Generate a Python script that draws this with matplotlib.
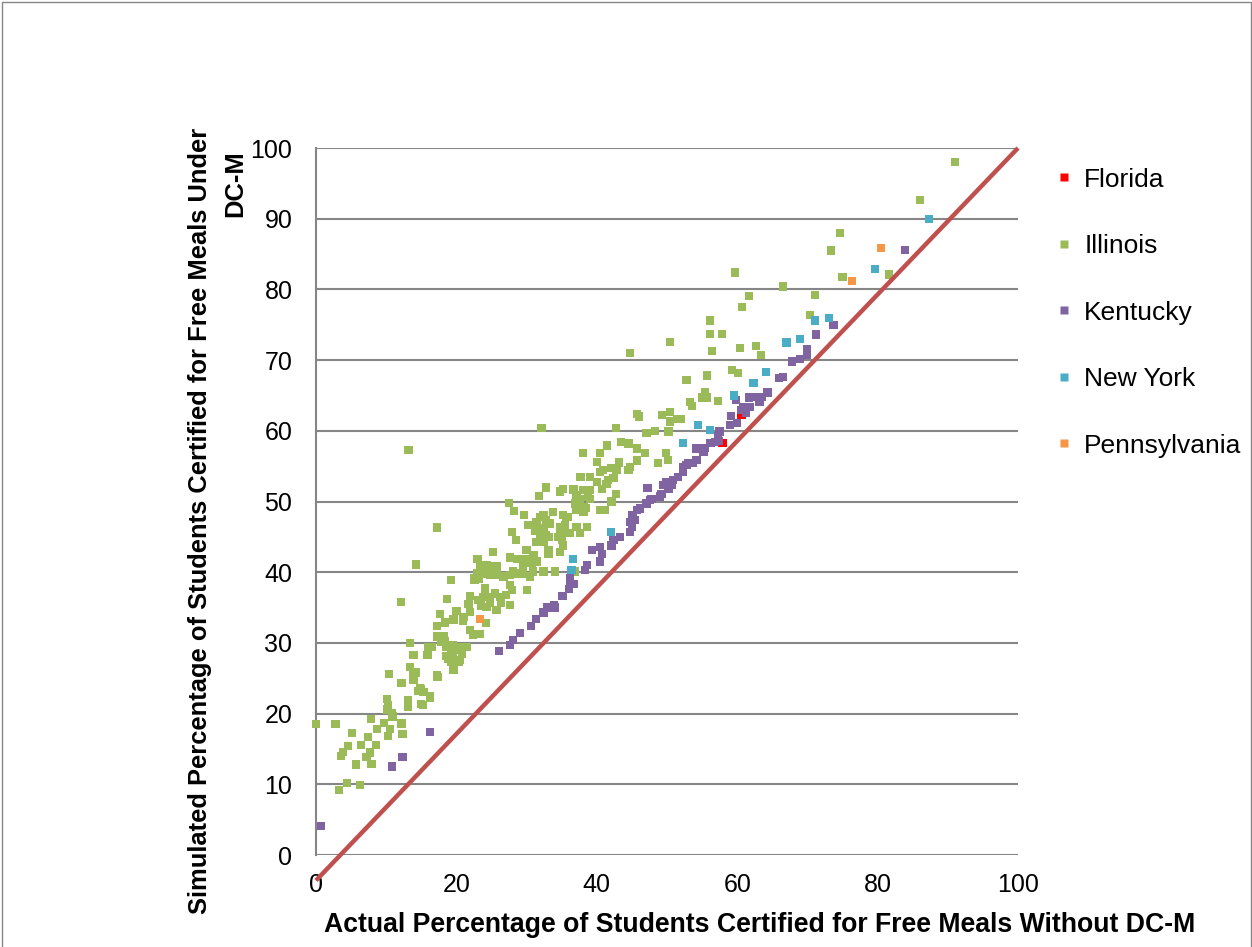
import matplotlib
matplotlib.use("Agg")
import matplotlib.pyplot as plt
from matplotlib.lines import Line2D
import matplotlib.patches as patches

plt.rcParams['font.family'] = ['Liberation Sans', 'DejaVu Sans']

# --- data ---
florida = [(60.6, 62.2), (57.9, 58.3)]

illinois = [
    (91.0, 98.0), (86.0, 92.6), (74.6, 88.0), (73.4, 85.5), (59.7, 82.4), (75.0, 81.8),
    (81.6, 82.1), (66.5, 80.4), (61.7, 79.1), (71.1, 79.2), (60.7, 77.5), (70.4, 76.4),
    (56.1, 75.6), (56.1, 73.7), (57.8, 73.7), (56.4, 71.3), (60.4, 71.7), (62.7, 72.0),
    (63.4, 70.7), (59.3, 68.6), (60.1, 68.2), (52.8, 67.2), (55.7, 67.8), (55.4, 65.5),
    (55.0, 64.7), (55.7, 64.7), (53.3, 64.1), (53.6, 63.5), (57.3, 64.2), (51.9, 61.7),
    (50.4, 72.6), (44.7, 71.0), (45.7, 62.4), (46.0, 62.0), (49.3, 62.2), (50.4, 62.7),
    (50.4, 61.3), (51.4, 61.7), (42.7, 60.4), (32.1, 60.4), (47.1, 59.7), (48.3, 60.0),
    (50.2, 59.9), (41.5, 57.9), (43.4, 58.4), (44.5, 58.2), (38.0, 56.9), (40.5, 56.9),
    (45.7, 57.5), (46.9, 56.9), (49.9, 56.9), (50.1, 55.9), (40.0, 55.6), (43.2, 55.5),
    (45.7, 55.8), (48.7, 55.4), (40.9, 54.5), (42.1, 54.7), (42.8, 54.5), (44.7, 54.9),
    (44.5, 54.5), (37.7, 53.5), (39.0, 53.5), (40.5, 54.2), (42.4, 53.3), (40.0, 52.8),
    (41.4, 52.5), (41.6, 53.0), (39.0, 51.6), (40.7, 51.8), (32.8, 52.0), (35.2, 51.8),
    (34.8, 51.4), (36.7, 51.7), (38.1, 51.6), (42.7, 51.1), (42.1, 50.0), (37.6, 50.4),
    (39.0, 50.4), (36.9, 49.7), (38.1, 49.2), (40.5, 48.8), (41.2, 48.8), (33.8, 48.5),
    (32.4, 48.1), (32.8, 47.4), (35.2, 48.1), (35.9, 47.8), (37.1, 46.4), (38.6, 46.4),
    (37.6, 45.5), (36.2, 45.5), (34.8, 46.4), (35.2, 45.7), (34.5, 45.0), (35.0, 44.6),
    (33.1, 45.0), (32.4, 44.6), (35.2, 43.8), (33.1, 42.6), (34.8, 42.9), (34.0, 40.1),
    (32.4, 40.1), (36.9, 40.1), (31.8, 50.8), (37.1, 50.9), (38.9, 51.6), (38.7, 50.7),
    (27.5, 49.8), (28.2, 48.7), (29.6, 48.1), (31.9, 47.8), (31.4, 47.1), (30.2, 46.7),
    (31.2, 45.9), (32.4, 46.2), (33.3, 46.9), (31.9, 45.0), (32.8, 45.3), (31.4, 44.3),
    (32.4, 44.3), (34.8, 46.2), (35.5, 46.7), (35.7, 47.8), (37.1, 48.8), (37.6, 49.5),
    (38.1, 48.6), (38.5, 49.1), (27.9, 45.7), (28.5, 44.6), (30.0, 43.1), (31.0, 42.4),
    (30.2, 41.9), (29.1, 41.9), (33.1, 43.1), (33.1, 42.6), (25.2, 42.9), (27.6, 42.1),
    (28.6, 41.9), (23.0, 41.9), (23.4, 40.8), (24.5, 40.8), (25.7, 40.8), (29.5, 41.0),
    (31.4, 41.5), (30.5, 41.5), (24.3, 41.0), (25.2, 40.6), (24.8, 39.6), (23.8, 39.8),
    (22.9, 39.8), (22.6, 39.1), (25.7, 39.6), (26.7, 39.4), (27.6, 39.6), (28.1, 40.1),
    (28.8, 39.8), (29.5, 39.8), (30.7, 41.3), (30.9, 40.1), (30.5, 39.4), (27.6, 38.2),
    (27.9, 37.5), (30.1, 37.5), (17.2, 46.3), (14.2, 41.1), (12.1, 35.8), (19.2, 38.9),
    (22.6, 38.9), (23.2, 39.0), (24.1, 37.7), (18.7, 36.2), (21.9, 36.6), (21.7, 35.5),
    (23.1, 36.1), (23.5, 35.3), (21.9, 34.4), (17.7, 34.1), (20.0, 34.5), (19.6, 33.3),
    (18.4, 32.9), (21.0, 33.7), (20.9, 33.1), (17.2, 32.4), (17.2, 30.9), (18.2, 31.0),
    (18.4, 30.2), (18.8, 29.4), (21.9, 31.8), (22.6, 31.3), (23.4, 31.3), (22.4, 31.1),
    (24.2, 32.8), (23.8, 36.5), (24.8, 36.5), (25.5, 37.0), (26.2, 36.5), (24.3, 35.1),
    (24.8, 35.6), (25.7, 34.7), (26.4, 35.6), (27.1, 36.8), (27.6, 35.4), (19.5, 33.2),
    (13.4, 30.0), (16.0, 29.4), (16.5, 29.4), (17.9, 30.2), (18.6, 29.4), (19.3, 28.5),
    (19.6, 26.2), (20.3, 27.3), (18.8, 27.8), (20.3, 29.4), (21.5, 29.4), (20.8, 28.5),
    (19.5, 29.7), (21.2, 29.4), (20.0, 29.0), (18.6, 28.1), (19.5, 28.3), (20.5, 27.6),
    (19.3, 27.3), (19.5, 26.4), (13.9, 28.3), (15.9, 28.3), (13.4, 26.6), (13.9, 25.9),
    (14.2, 25.8), (13.9, 24.8), (14.8, 23.6), (15.3, 23.1), (16.2, 22.4), (17.2, 25.5),
    (17.3, 25.2), (15.0, 21.4), (13.1, 21.9), (13.1, 21.0), (12.2, 24.3), (10.4, 25.6),
    (15.2, 21.2), (16.2, 22.2), (15.0, 23.4), (14.6, 23.2), (10.1, 22.1), (10.3, 21.2),
    (10.2, 20.6), (10.8, 20.1), (7.8, 19.2), (8.7, 17.8), (9.7, 18.7), (10.3, 16.8),
    (10.5, 17.8), (10.9, 19.6), (12.2, 18.6), (12.3, 17.1), (0.0, 18.5), (2.8, 18.5),
    (5.1, 17.3), (4.6, 15.4), (3.6, 14.0), (3.8, 14.6), (6.4, 15.6), (7.4, 16.7),
    (8.5, 15.6), (5.7, 12.8), (7.2, 13.9), (7.7, 14.5), (7.9, 12.9), (4.4, 10.2),
    (3.3, 9.2), (6.3, 9.9), (13.2, 57.3),
]

kentucky = [
    (0.7, 4.1), (10.8, 12.5), (12.3, 13.9), (16.2, 17.4), (26.1, 28.9), (27.6, 29.7),
    (28.1, 30.4), (29.1, 31.4), (30.6, 32.4), (31.3, 33.4), (32.4, 34.3), (32.9, 35.0),
    (34.0, 35.0), (33.9, 35.4), (35.1, 36.6), (36.0, 37.6), (36.2, 38.6), (36.7, 38.3),
    (36.2, 39.1), (38.3, 40.3), (38.6, 41.0), (40.5, 41.5), (40.7, 42.6), (39.3, 43.1),
    (40.5, 43.6), (42.1, 43.8), (42.4, 44.6), (43.3, 45.0), (44.7, 45.7), (45.0, 46.4),
    (44.7, 47.1), (45.4, 47.4), (45.1, 48.1), (45.7, 48.8), (46.2, 49.0), (47.1, 49.7),
    (47.6, 50.2), (47.8, 50.4), (49.0, 50.7), (49.2, 51.1), (47.2, 51.9), (49.4, 52.3),
    (49.9, 52.8), (50.2, 51.8), (50.7, 52.3), (50.9, 53.0), (51.6, 53.5), (52.3, 54.2),
    (52.3, 54.9), (52.8, 55.2), (53.0, 55.4), (53.7, 55.4), (54.2, 55.9), (54.2, 57.5),
    (55.2, 57.0), (54.5, 57.6), (55.4, 57.6), (56.2, 58.3), (56.8, 58.4), (57.4, 58.6),
    (57.3, 59.2), (57.5, 59.9), (59.0, 60.8), (60.0, 61.1), (59.1, 62.1), (61.3, 62.5),
    (60.6, 62.9), (60.9, 63.4), (61.8, 63.4), (59.8, 64.4), (63.2, 64.1), (61.7, 64.7),
    (62.8, 64.8), (63.5, 64.8), (64.3, 65.4), (66.0, 67.5), (66.5, 67.6), (67.8, 69.8),
    (68.9, 70.2), (69.9, 70.7), (69.9, 71.6), (71.2, 73.6), (73.7, 75.0), (83.9, 85.6),
]

new_york = [
    (87.3, 90.0), (79.6, 82.9), (71.1, 75.6), (73.1, 76.0), (67.0, 72.5), (68.9, 73.0),
    (64.1, 68.3), (62.3, 66.8), (59.5, 65.0), (54.4, 60.8), (56.1, 60.1), (52.3, 58.3),
    (42.0, 45.7), (36.6, 41.9), (36.4, 40.3),
]

pennsylvania = [(80.5, 85.9), (76.4, 81.2), (23.4, 33.4)]

series_names = ['Florida', 'Illinois', 'Kentucky', 'New York', 'Pennsylvania']
series_data = [florida, illinois, kentucky, new_york, pennsylvania]
series_colors = ['#FF0000', '#9BBB59', '#8064A2', '#4BACC6', '#F79646']

ref_line_x = [0, 100]
ref_line_y = [-3.6, 100]

x_ticks = [0, 20, 40, 60, 80, 100]
y_ticks = [0, 10, 20, 30, 40, 50, 60, 70, 80, 90, 100]

# --- figure ---
W, H = 1252, 947
fig = plt.figure(figsize=(W / 100, H / 100), dpi=100, facecolor='white')
ax = fig.add_axes([316 / W, 1 - 855 / H, (1018 - 316) / W, (855 - 148) / H])

GRID = '#868686'
for yt in y_ticks:
    ax.axhline(yt, color=GRID, lw=1.5, zorder=1)

for name, pts, col in zip(series_names, series_data, series_colors):
    xs = [p[0] for p in pts]
    ys = [p[1] for p in pts]
    ax.scatter(xs, ys, marker='s', s=36, c=col, edgecolors='none', zorder=3, clip_on=False)

ax.plot(ref_line_x, ref_line_y, color='#C0504D', lw=3.2, zorder=4, clip_on=False,
        solid_capstyle='butt')

ax.set_xlim(0, 100)
ax.set_ylim(0, 100)
ax.set_xticks(x_ticks)
ax.set_yticks(y_ticks)
ax.tick_params(axis='both', length=0, labelsize=18, colors='black')
ax.tick_params(axis='x', pad=13)
ax.tick_params(axis='y', pad=17)
for lbl in ax.get_yticklabels():
    lbl.set_horizontalalignment('right')
for s in ['top', 'right', 'bottom']:
    ax.spines[s].set_visible(False)
ax.spines['left'].set_color(GRID)
ax.spines['left'].set_linewidth(1.5)

fig.text(760 / W, 1 - 925 / H,
         'Actual Percentage of Students Certified for Free Meals Without DC-M',
         ha='center', va='center', fontsize=19.2, fontweight='bold')
fig.text(200 / W, 1 - 521 / H,
         'Simulated Percentage of Students Certified for Free Meals Under',
         ha='center', va='center', rotation=90, fontsize=18.4, fontweight='bold')
fig.text(235 / W, 1 - 184 / H, 'DC-M',
         ha='center', va='center', rotation=90, fontsize=18.4, fontweight='bold')

# legend
handles = [Line2D([0], [0], marker='s', color='none', markerfacecolor=c,
                  markeredgecolor='none', markersize=6, label=n)
           for n, c in zip(series_names, series_colors)]
fig.legend(handles=handles, loc='upper left', bbox_to_anchor=(1046 / W, 1 - 157 / H),
           frameon=False, fontsize=19, labelspacing=1.61, handlelength=0.6,
           handletextpad=0.45, borderaxespad=0)

# chart border
fig.add_artist(patches.Rectangle((1.5 / W, -0.05), (W - 3) / W, 1.05 - 2 / H,
                                 transform=fig.transFigure, fill=False,
                                 edgecolor='#868686', lw=1))

fig.savefig('out.png', dpi=100, facecolor='white')
